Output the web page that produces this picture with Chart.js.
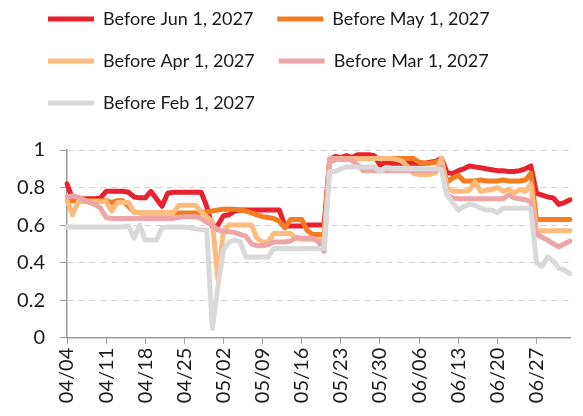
<!DOCTYPE html>
<html>
<head>
<meta charset="utf-8">
<script src="https://cdn.jsdelivr.net/npm/chart.js@4"></script>
<style>
  html, body { margin: 0; padding: 0; background: #fff; }
  #wrap { width: 583px; height: 416px; }
</style>
</head>
<body>
<div id="wrap"><canvas id="chart" width="583" height="416"></canvas></div>
<script>
// Daily categories 04/04 .. 07/03
const monthLengths = { 4: 30, 5: 31, 6: 30, 7: 31 };
const dates = [];
for (let m = 4, d = 4; dates.length < 91; ) {
  dates.push(String(m).padStart(2, '0') + '/' + String(d).padStart(2, '0'));
  d++;
  if (d > monthLengths[m]) { d = 1; m++; }
}

// x ticks that get a label
const tickLabels = ['04/04', '04/11', '04/18', '04/25', '05/02', '05/09', '05/16',
  '05/23', '05/30', '06/06', '06/13', '06/20', '06/27'];

const seriesNames = ['Before Jun 1, 2027', 'Before May 1, 2027', 'Before Apr 1, 2027',
  'Before Mar 1, 2027', 'Before Feb 1, 2027'];

const beforeJun1 = [
  0.82, 0.74, 0.74, 0.74, 0.74, 0.74, 0.745, 0.78, 0.78, 0.78,
  0.78, 0.775, 0.75, 0.745, 0.745, 0.78, 0.74, 0.70, 0.77, 0.775,
  0.775, 0.775, 0.775, 0.775, 0.775, 0.70, 0.59, 0.60, 0.65, 0.655,
  0.675, 0.68, 0.68, 0.68, 0.68, 0.68, 0.68, 0.68, 0.68, 0.595,
  0.595, 0.595, 0.595, 0.60, 0.60, 0.60, 0.60, 0.95, 0.965, 0.96,
  0.97, 0.96, 0.975, 0.975, 0.975, 0.97, 0.92, 0.935, 0.93, 0.93,
  0.93, 0.93, 0.93, 0.93, 0.93, 0.935, 0.94, 0.955, 0.88, 0.875,
  0.89, 0.90, 0.915, 0.91, 0.905, 0.90, 0.895, 0.89, 0.89, 0.885,
  0.885, 0.89, 0.90, 0.915, 0.77, 0.76, 0.75, 0.745, 0.71, 0.72,
  0.735
];

const beforeMay1 = [
  0.73, 0.73, 0.73, 0.73, 0.73, 0.73, 0.73, 0.73, 0.72, 0.73,
  0.73, 0.70, 0.67, 0.665, 0.665, 0.665, 0.665, 0.665, 0.665, 0.665,
  0.665, 0.665, 0.665, 0.665, 0.665, 0.67, 0.675, 0.68, 0.685, 0.685,
  0.685, 0.68, 0.675, 0.665, 0.655, 0.645, 0.64, 0.635, 0.62, 0.585,
  0.63, 0.63, 0.63, 0.57, 0.55, 0.55, 0.55, 0.94, 0.95, 0.955,
  0.955, 0.955, 0.955, 0.955, 0.955, 0.955, 0.955, 0.955, 0.955, 0.955,
  0.955, 0.955, 0.955, 0.935, 0.93, 0.93, 0.935, 0.945, 0.83, 0.85,
  0.865, 0.835, 0.835, 0.835, 0.84, 0.835, 0.835, 0.835, 0.84, 0.835,
  0.835, 0.835, 0.84, 0.875, 0.63, 0.63, 0.63, 0.63, 0.63, 0.63,
  0.63
];

const beforeApr1 = [
  0.73, 0.655, 0.725, 0.725, 0.725, 0.725, 0.725, 0.725, 0.675, 0.72,
  0.72, 0.72, 0.67, 0.665, 0.665, 0.665, 0.665, 0.665, 0.665, 0.665,
  0.705, 0.705, 0.705, 0.705, 0.67, 0.645, 0.62, 0.31, 0.57, 0.60,
  0.60, 0.60, 0.60, 0.60, 0.53, 0.51, 0.51, 0.555, 0.555, 0.555,
  0.555, 0.53, 0.525, 0.525, 0.525, 0.525, 0.525, 0.945, 0.955, 0.955,
  0.955, 0.955, 0.955, 0.955, 0.955, 0.955, 0.955, 0.955, 0.955, 0.95,
  0.94, 0.91, 0.875, 0.87, 0.87, 0.87, 0.88, 0.955, 0.80, 0.78,
  0.78, 0.78, 0.785, 0.83, 0.78, 0.785, 0.79, 0.80, 0.78, 0.79,
  0.77, 0.79, 0.78, 0.82, 0.57, 0.57, 0.57, 0.57, 0.57, 0.57,
  0.57
];

const beforeMar1 = [
  0.75, 0.755, 0.75, 0.735, 0.72, 0.71, 0.69, 0.64, 0.635, 0.635,
  0.635, 0.635, 0.635, 0.635, 0.635, 0.635, 0.635, 0.635, 0.635, 0.635,
  0.64, 0.645, 0.645, 0.645, 0.635, 0.615, 0.60, 0.575, 0.565, 0.565,
  0.56, 0.55, 0.54, 0.50, 0.49, 0.49, 0.495, 0.51, 0.51, 0.51,
  0.515, 0.535, 0.53, 0.53, 0.53, 0.51, 0.46, 0.955, 0.955, 0.95,
  0.95, 0.945, 0.92, 0.89, 0.89, 0.89, 0.89, 0.89, 0.89, 0.89,
  0.89, 0.89, 0.89, 0.89, 0.89, 0.89, 0.89, 0.91, 0.76, 0.745,
  0.74, 0.74, 0.74, 0.74, 0.74, 0.74, 0.74, 0.74, 0.74, 0.76,
  0.745, 0.74, 0.735, 0.725, 0.55, 0.535, 0.52, 0.50, 0.485, 0.50,
  0.515
];

const beforeFeb1 = [
  0.59, 0.59, 0.59, 0.59, 0.59, 0.59, 0.59, 0.59, 0.59, 0.59,
  0.59, 0.595, 0.53, 0.60, 0.52, 0.52, 0.52, 0.585, 0.59, 0.59,
  0.59, 0.59, 0.585, 0.58, 0.575, 0.575, 0.05, 0.27, 0.47, 0.51,
  0.52, 0.51, 0.43, 0.43, 0.43, 0.43, 0.43, 0.475, 0.475, 0.475,
  0.475, 0.475, 0.475, 0.475, 0.475, 0.475, 0.475, 0.885, 0.885, 0.90,
  0.91, 0.91, 0.91, 0.91, 0.91, 0.91, 0.885, 0.905, 0.90, 0.90,
  0.90, 0.90, 0.90, 0.90, 0.90, 0.90, 0.90, 0.895, 0.76, 0.72,
  0.68, 0.70, 0.71, 0.705, 0.69, 0.68, 0.68, 0.665, 0.69, 0.69,
  0.69, 0.69, 0.69, 0.69, 0.40, 0.38, 0.43, 0.41, 0.37, 0.36,
  0.34
];

const seriesValues = [beforeJun1, beforeMay1, beforeApr1, beforeMar1, beforeFeb1];
const seriesColors = ['#E8212F', '#F47C20', '#FDBB7E', '#ECA6A8', '#D9D9D9'];

const AXIS_GREY = '#9a9a9a';
const GRID_GREY = '#d2d2d2';
const LEGEND_SHIFT = 24;

// legend: fixed box height so the plot starts where the reference does,
// and drawn a little to the right of the canvas edge
const legendTweak = {
  id: 'legendTweak',
  beforeInit(chart) {
    const legend = chart.legend;
    const fit = legend.fit;
    legend.fit = function () {
      fit.call(this);
      this.height = 164;
    };
    const draw = legend.draw;
    legend.draw = function () {
      const ctx = this.ctx;
      ctx.save();
      ctx.translate(LEGEND_SHIFT, 0);
      draw.call(this);
      ctx.restore();
    };
  }
};

Chart.defaults.font.family = "'Lato', sans-serif";
Chart.defaults.font.size = 18;
Chart.defaults.color = '#1a1a1a';

new Chart(document.getElementById('chart'), {
  type: 'line',
  data: {
    labels: dates,
    datasets: seriesValues.map((values, i) => ({
      label: seriesNames[i],
      data: values,
      borderColor: seriesColors[i],
      backgroundColor: seriesColors[i],
      borderWidth: 5,
      borderCapStyle: 'round',
      borderJoinStyle: 'round',
      pointRadius: 0,
      tension: 0,
      order: seriesValues.length - i
    }))
  },
  options: {
    responsive: false,
    animation: false,
    layout: { padding: { top: -14, left: 0, right: 13, bottom: 0 } },
    plugins: {
      tooltip: { enabled: false },
      legend: {
        position: 'top',
        align: 'start',
        labels: {
          usePointStyle: true,
          pointStyle: 'line',
          pointStyleWidth: 46,
          padding: 24,
          color: '#1a1a1a',
          font: { size: 18 },
          sort: (a, b) => a.datasetIndex - b.datasetIndex
        }
      }
    },
    scales: {
      x: {
        grid: {
          drawOnChartArea: false,
          tickLength: 6,
          tickColor: AXIS_GREY
        },
        border: { color: AXIS_GREY, width: 1.5 },
        ticks: {
          autoSkip: false,
          minRotation: 90,
          maxRotation: 90,
          padding: 4,
          font: { size: 20 }
        },
        afterBuildTicks(scale) {
          scale.ticks = scale.ticks.filter(t => tickLabels.includes(dates[t.value]));
        },
        afterFit(scale) { scale.height = 78.3; }
      },
      y: {
        min: 0,
        max: 1,
        grid: {
          color: GRID_GREY,
          tickColor: AXIS_GREY,
          tickLength: 7
        },
        border: { color: AXIS_GREY, width: 1.5, dash: [6, 5] },
        ticks: {
          stepSize: 0.2,
          padding: 15,
          font: { size: 20 },
          callback: v => String(Number(v.toFixed(1)))
        },
        afterFit(scale) { scale.width = 67; }
      }
    }
  },
  plugins: [legendTweak]
});
</script>
</body>
</html>
